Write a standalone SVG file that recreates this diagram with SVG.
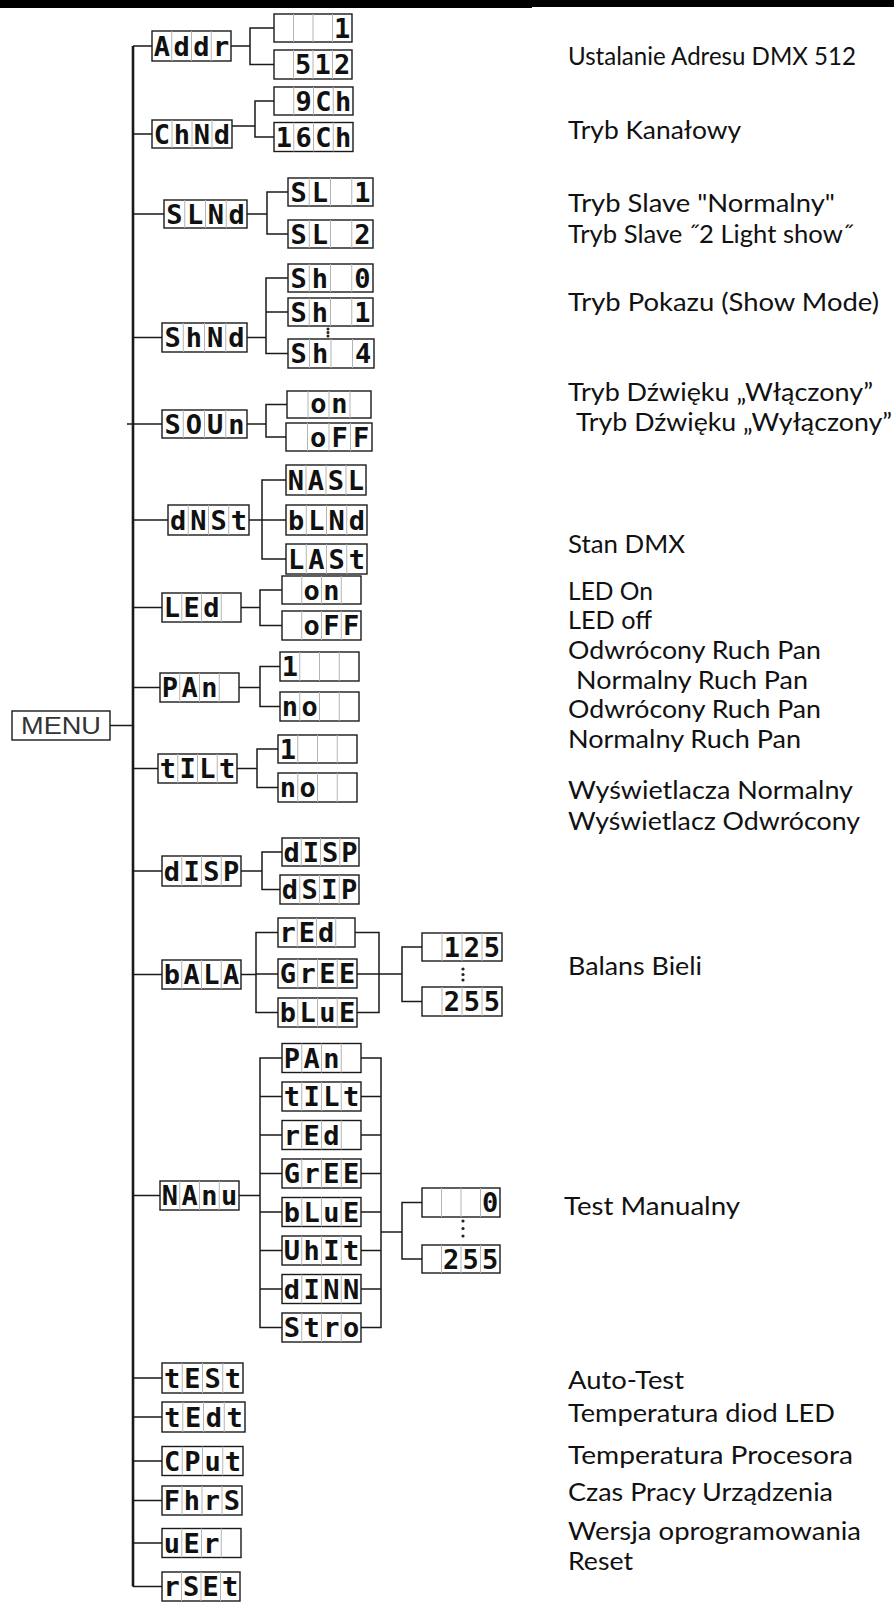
<svg xmlns="http://www.w3.org/2000/svg" width="894" height="1602" viewBox="0 0 894 1602">
<style>
.node rect{fill:#fff;stroke:#1a1a1a;stroke-width:1.4}
.div{stroke:#b4b4b4;stroke-width:1;fill:none}
.seg{font-family:"DejaVu Sans Mono",monospace;font-weight:bold;font-size:27px;text-anchor:middle;fill:#111}
.menu{font-family:"Liberation Sans",Arial,sans-serif;font-size:23px;fill:#333;text-anchor:middle}
.lbl{font-family:Lato,"Open Sans",sans-serif;font-size:25px;fill:#111}
.conn path{stroke:#1a1a1a;stroke-width:1.5;fill:none}
.conn path.main{stroke-width:2.6}
.dot{fill:#222}
</style>
<rect x="0" y="0" width="532" height="8" fill="#000"/>
<rect x="532" y="0" width="362" height="7" fill="#000"/>

<g id="connectors" class="conn">
<path class="main" d="M133,46V1586.5"/>
<path d="M133,46H152M133,134H152M133,214H164M133,337.5H162M127,424H162M133,520H168M133,607.5H162M133,687.5H160M110,725.5H133M133,768.5H158M133,871H162M133,974.5H162M133,1195.5H160M133,1378H162M133,1417H162M133,1461H162M133,1500.5H162M133,1543H162M133,1586.5H162"/>
<path d="M231,46H250M274,28H250V64.5H274"/>
<path d="M232,126H255M274,101H255V137H274"/>
<path d="M247,214H267M288,192H267V234H288"/>
<path d="M247,337.5H266M288,278H266V353.5H288M266,312H288"/>
<path d="M247,424H266M287,404.5H266V437H286"/>
<path d="M249,520H262M286,480H262V559H286M262,520H286"/>
<path d="M241,607.5H260M282,590H260V625.5H282"/>
<path d="M239,687.5H260M280,666.5H260V706.5H280"/>
<path d="M237,768.5H257M278,749H257V787.5H278"/>
<path d="M241,871H262M282,852H262V889.5H280"/>
<path d="M241,974.5H256M278,932.5H256V1012.5H278M256,974H278"/>
<path d="M355,932.5H379V1012.5H357M357,974H402M422,947H402V1001.5H422"/>
<path d="M239,1195.5H260M282,1058H260V1327.5H282M260,1096.5H282M260,1135H282M260,1173.5H282M260,1212H282M260,1250.5H282M260,1289H282"/>
<path d="M361,1058H381V1327.5H361M361,1096.5H381M361,1135H381M361,1173.5H381M361,1212H381M361,1250.5H381M361,1289H381M381,1232H402M422,1202.5H402V1259H422"/>
</g>

<g id="dots">
<circle class="dot" cx="328" cy="329" r="1.5"/><circle class="dot" cx="328" cy="332.5" r="1.5"/><circle class="dot" cx="328" cy="336" r="1.5"/>
<circle class="dot" cx="463" cy="969" r="1.6"/><circle class="dot" cx="463" cy="974.5" r="1.6"/><circle class="dot" cx="463" cy="980" r="1.6"/>
<circle class="dot" cx="463" cy="1221" r="1.6"/><circle class="dot" cx="463" cy="1228.5" r="1.6"/><circle class="dot" cx="463" cy="1236" r="1.6"/>
</g>

<g id="menu" class="node"><rect x="12" y="711" width="98" height="29"/><text class="menu" x="61" y="734" textLength="80" lengthAdjust="spacingAndGlyphs">MENU</text></g>

<g id="addr" class="node"><rect x="152" y="31" width="79" height="30"/><path class="div" d="M171.75,31v30M191.5,31v30M211.25,31v30"/><text class="seg" x="161.9 181.6 201.4 221.1" y="56">Addr</text></g>
<g id="addr-1" class="node"><rect x="274" y="14" width="78" height="28"/><path class="div" d="M293.5,14v28M313,14v28M332.5,14v28"/><text class="seg" x="342.25" y="37.5">1</text></g>
<g id="addr-512" class="node"><rect x="274" y="50" width="78" height="29"/><path class="div" d="M293.5,50v29M313,50v29M332.5,50v29"/><text class="seg" x="303.25 322.75 342.25" y="74">512</text></g>

<g id="chmd" class="node"><rect x="152" y="120" width="80" height="28"/><path class="div" d="M172,120v28M192,120v28M212,120v28"/><text class="seg" x="162 182 202 222" y="143.5">ChNd</text></g>
<g id="chmd-9" class="node"><rect x="274" y="87" width="79" height="28"/><path class="div" d="M293.75,87v28M313.5,87v28M333.25,87v28"/><text class="seg" x="303.6 323.4 343.1" y="110.5">9Ch</text></g>
<g id="chmd-16" class="node"><rect x="274" y="122.5" width="79" height="29"/><path class="div" d="M293.75,122.5v29M313.5,122.5v29M333.25,122.5v29"/><text class="seg" x="283.9 303.6 323.4 343.1" y="146.5">16Ch</text></g>

<g id="slmd" class="node"><rect x="164" y="200" width="83" height="28"/><path class="div" d="M184.75,200v28M205.5,200v28M226.25,200v28"/><text class="seg" x="174.4 195.1 215.9 236.6" y="223.5">SLNd</text></g>
<g id="slmd-1" class="node"><rect x="288" y="178" width="85" height="28"/><path class="div" d="M309.25,178v28M330.5,178v28M351.75,178v28"/><text class="seg" xml:space="preserve" x="298.6 319.9 341.1 362.4" y="201.5">SL 1</text></g>
<g id="slmd-2" class="node"><rect x="288" y="220" width="85" height="28"/><path class="div" d="M309.25,220v28M330.5,220v28M351.75,220v28"/><text class="seg" xml:space="preserve" x="298.6 319.9 341.1 362.4" y="243.5">SL 2</text></g>

<g id="shmd" class="node"><rect x="162" y="323" width="85" height="29"/><path class="div" d="M183.25,323v29M204.5,323v29M225.75,323v29"/><text class="seg" x="172.6 193.9 215.1 236.4" y="347">ShNd</text></g>
<g id="shmd-0" class="node"><rect x="288" y="264" width="85" height="28"/><path class="div" d="M309.25,264v28M330.5,264v28M351.75,264v28"/><text class="seg" xml:space="preserve" x="298.6 319.9 341.1 362.4" y="287.5">Sh 0</text></g>
<g id="shmd-1" class="node"><rect x="288" y="298" width="85" height="28"/><path class="div" d="M309.25,298v28M330.5,298v28M351.75,298v28"/><text class="seg" xml:space="preserve" x="298.6 319.9 341.1 362.4" y="321.5">Sh 1</text></g>
<g id="shmd-4" class="node"><rect x="288" y="339" width="86" height="29"/><path class="div" d="M309.5,339v29M331,339v29M352.5,339v29"/><text class="seg" xml:space="preserve" x="298.75 320.25 341.75 363.25" y="363">Sh 4</text></g>

<g id="soun" class="node"><rect x="162" y="410" width="85" height="28"/><path class="div" d="M183.25,410v28M204.5,410v28M225.75,410v28"/><text class="seg" x="172.6 193.9 215.1 236.4" y="433.5">SOUn</text></g>
<g id="soun-on" class="node"><rect x="287" y="391" width="84" height="27"/><path class="div" d="M308,391v27M329,391v27M350,391v27"/><text class="seg" x="318.5 339.5" y="413">on</text></g>
<g id="soun-off" class="node"><rect x="286" y="423" width="86" height="28"/><path class="div" d="M307.5,423v28M329,423v28M350.5,423v28"/><text class="seg" x="318.25 339.75 361.25" y="446.5">oFF</text></g>

<g id="dmst" class="node"><rect x="168" y="505" width="81" height="30"/><path class="div" d="M188.25,505v30M208.5,505v30M228.75,505v30"/><text class="seg" x="178.1 198.4 218.6 238.9" y="530">dNSt</text></g>
<g id="dmst-masl" class="node"><rect x="286" y="465" width="80" height="30"/><path class="div" d="M306,465v30M326,465v30M346,465v30"/><text class="seg" x="296 316 336 356" y="490">NASL</text></g>
<g id="dmst-blmd" class="node"><rect x="286" y="505" width="81" height="30"/><path class="div" d="M306.25,505v30M326.5,505v30M346.75,505v30"/><text class="seg" x="296.1 316.4 336.6 356.9" y="530">bLNd</text></g>
<g id="dmst-last" class="node"><rect x="286" y="544" width="81" height="30"/><path class="div" d="M306.25,544v30M326.5,544v30M346.75,544v30"/><text class="seg" x="296.1 316.4 336.6 356.9" y="569">LASt</text></g>

<g id="led" class="node"><rect x="162" y="593" width="79" height="29"/><path class="div" d="M181.75,593v29M201.5,593v29M221.25,593v29"/><text class="seg" x="171.9 191.6 211.4" y="617">LEd</text></g>
<g id="led-on" class="node"><rect x="282" y="576" width="79" height="28"/><path class="div" d="M301.75,576v28M321.5,576v28M341.25,576v28"/><text class="seg" x="311.6 331.4" y="599.5">on</text></g>
<g id="led-off" class="node"><rect x="282" y="611" width="79" height="29"/><path class="div" d="M301.75,611v29M321.5,611v29M341.25,611v29"/><text class="seg" x="311.6 331.4 351.1" y="635">oFF</text></g>

<g id="pan" class="node"><rect x="160" y="673" width="79" height="29"/><path class="div" d="M179.75,673v29M199.5,673v29M219.25,673v29"/><text class="seg" x="169.9 189.6 209.4" y="697">PAn</text></g>
<g id="pan-1" class="node"><rect x="280" y="652" width="79" height="29"/><path class="div" d="M299.75,652v29M319.5,652v29M339.25,652v29"/><text class="seg" x="289.9" y="676">1</text></g>
<g id="pan-no" class="node"><rect x="280" y="692" width="79" height="29"/><path class="div" d="M299.75,692v29M319.5,692v29M339.25,692v29"/><text class="seg" x="289.9 309.6" y="716">no</text></g>

<g id="tilt" class="node"><rect x="158" y="754" width="79" height="29"/><path class="div" d="M177.75,754v29M197.5,754v29M217.25,754v29"/><text class="seg" x="167.9 187.6 207.4 227.1" y="778">tILt</text></g>
<g id="tilt-1" class="node"><rect x="278" y="735" width="79" height="28"/><path class="div" d="M297.75,735v28M317.5,735v28M337.25,735v28"/><text class="seg" x="287.9" y="758.5">1</text></g>
<g id="tilt-no" class="node"><rect x="278" y="773" width="79" height="29"/><path class="div" d="M297.75,773v29M317.5,773v29M337.25,773v29"/><text class="seg" x="287.9 307.6" y="797">no</text></g>

<g id="disp" class="node"><rect x="162" y="856" width="79" height="30"/><path class="div" d="M181.75,856v30M201.5,856v30M221.25,856v30"/><text class="seg" x="171.9 191.6 211.4 231.1" y="881">dISP</text></g>
<g id="disp-n" class="node"><rect x="282" y="838" width="77" height="28"/><path class="div" d="M301.25,838v28M320.5,838v28M339.75,838v28"/><text class="seg" x="291.6 310.9 330.1 349.4" y="861.5">dISP</text></g>
<g id="disp-r" class="node"><rect x="280" y="875" width="79" height="29"/><path class="div" d="M299.75,875v29M319.5,875v29M339.25,875v29"/><text class="seg" x="289.9 309.6 329.4 349.1" y="899">dSIP</text></g>

<g id="bala" class="node"><rect x="162" y="960" width="79" height="29"/><path class="div" d="M181.75,960v29M201.5,960v29M221.25,960v29"/><text class="seg" x="171.9 191.6 211.4 231.1" y="984">bALA</text></g>
<g id="bala-red" class="node"><rect x="278" y="918" width="77" height="29"/><path class="div" d="M297.25,918v29M316.5,918v29M335.75,918v29"/><text class="seg" x="287.6 306.9 326.1" y="942">rEd</text></g>
<g id="bala-gree" class="node"><rect x="278" y="959" width="79" height="29"/><path class="div" d="M297.75,959v29M317.5,959v29M337.25,959v29"/><text class="seg" x="287.9 307.6 327.4 347.1" y="983">GrEE</text></g>
<g id="bala-blue" class="node"><rect x="278" y="998" width="79" height="29"/><path class="div" d="M297.75,998v29M317.5,998v29M337.25,998v29"/><text class="seg" x="287.9 307.6 327.4 347.1" y="1022">bLuE</text></g>
<g id="bala-125" class="node"><rect x="422" y="933" width="80" height="28"/><path class="div" d="M442,933v28M462,933v28M482,933v28"/><text class="seg" x="452 472 492" y="956.5">125</text></g>
<g id="bala-255" class="node"><rect x="422" y="987" width="80" height="29"/><path class="div" d="M442,987v29M462,987v29M482,987v29"/><text class="seg" x="452 472 492" y="1011">255</text></g>

<g id="manu" class="node"><rect x="160" y="1181" width="79" height="29"/><path class="div" d="M179.75,1181v29M199.5,1181v29M219.25,1181v29"/><text class="seg" x="169.9 189.6 209.4 229.1" y="1205">NAnu</text></g>
<g id="manu-pan" class="node"><rect x="282" y="1043.5" width="79" height="29"/><path class="div" d="M301.75,1043.5v29M321.5,1043.5v29M341.25,1043.5v29"/><text class="seg" x="291.9 311.6 331.4" y="1067.5">PAn</text></g>
<g id="manu-tilt" class="node"><rect x="282" y="1082" width="79" height="29"/><path class="div" d="M301.75,1082v29M321.5,1082v29M341.25,1082v29"/><text class="seg" x="291.9 311.6 331.4 351.1" y="1106">tILt</text></g>
<g id="manu-red" class="node"><rect x="282" y="1120.5" width="79" height="29"/><path class="div" d="M301.75,1120.5v29M321.5,1120.5v29M341.25,1120.5v29"/><text class="seg" x="291.9 311.6 331.4" y="1144.5">rEd</text></g>
<g id="manu-gree" class="node"><rect x="282" y="1159" width="79" height="29"/><path class="div" d="M301.75,1159v29M321.5,1159v29M341.25,1159v29"/><text class="seg" x="291.9 311.6 331.4 351.1" y="1183">GrEE</text></g>
<g id="manu-blue" class="node"><rect x="282" y="1197.5" width="79" height="29"/><path class="div" d="M301.75,1197.5v29M321.5,1197.5v29M341.25,1197.5v29"/><text class="seg" x="291.9 311.6 331.4 351.1" y="1221.5">bLuE</text></g>
<g id="manu-whit" class="node"><rect x="282" y="1236" width="79" height="29"/><path class="div" d="M301.75,1236v29M321.5,1236v29M341.25,1236v29"/><text class="seg" x="291.9 311.6 331.4 351.1" y="1260">UhIt</text></g>
<g id="manu-dimm" class="node"><rect x="282" y="1274.5" width="79" height="29"/><path class="div" d="M301.75,1274.5v29M321.5,1274.5v29M341.25,1274.5v29"/><text class="seg" x="291.9 311.6 331.4 351.1" y="1298.5">dINN</text></g>
<g id="manu-stro" class="node"><rect x="282" y="1313" width="79" height="29"/><path class="div" d="M301.75,1313v29M321.5,1313v29M341.25,1313v29"/><text class="seg" x="291.9 311.6 331.4 351.1" y="1337">Stro</text></g>
<g id="manu-0" class="node"><rect x="422" y="1188" width="78" height="29"/><path class="div" d="M441.5,1188v29M461,1188v29M480.5,1188v29"/><text class="seg" x="490.25" y="1212">0</text></g>
<g id="manu-255" class="node"><rect x="422" y="1245" width="78" height="28"/><path class="div" d="M441.5,1245v28M461,1245v28M480.5,1245v28"/><text class="seg" x="451.25 470.75 490.25" y="1268.5">255</text></g>

<g id="test" class="node"><rect x="162" y="1363" width="81" height="30"/><path class="div" d="M182.25,1363v30M202.5,1363v30M222.75,1363v30"/><text class="seg" x="172.1 192.4 212.6 232.9" y="1388">tESt</text></g>
<g id="tedt" class="node"><rect x="162" y="1402" width="83" height="30"/><path class="div" d="M182.75,1402v30M203.5,1402v30M224.25,1402v30"/><text class="seg" x="172.4 193.1 213.9 234.6" y="1427">tEdt</text></g>
<g id="cput" class="node"><rect x="162" y="1446.5" width="81" height="29"/><path class="div" d="M182.25,1446.5v29M202.5,1446.5v29M222.75,1446.5v29"/><text class="seg" x="172.1 192.4 212.6 232.9" y="1470.5">CPut</text></g>
<g id="fhrs" class="node"><rect x="162" y="1486" width="80" height="29"/><path class="div" d="M182,1486v29M202,1486v29M222,1486v29"/><text class="seg" x="172 192 212 232" y="1510">FhrS</text></g>
<g id="ver" class="node"><rect x="162" y="1528.5" width="79" height="29"/><path class="div" d="M181.75,1528.5v29M201.5,1528.5v29M221.25,1528.5v29"/><text class="seg" x="171.9 191.6 211.4" y="1552.5">uEr</text></g>
<g id="rset" class="node"><rect x="162" y="1572" width="78" height="29"/><path class="div" d="M181.5,1572v29M201,1572v29M220.5,1572v29"/><text class="seg" x="171.75 191.25 210.75 230.25" y="1596">rSEt</text></g>

<g id="labels" class="lbl">
<text x="568" y="65" textLength="288" lengthAdjust="spacingAndGlyphs">Ustalanie Adresu DMX 512</text>
<text x="568" y="139" textLength="173" lengthAdjust="spacingAndGlyphs">Tryb Kanałowy</text>
<text x="568" y="212" textLength="267" lengthAdjust="spacingAndGlyphs">Tryb Slave "Normalny"</text>
<text x="568" y="243" textLength="285" lengthAdjust="spacingAndGlyphs">Tryb Slave ˝2 Light show˝</text>
<text x="568" y="311" textLength="311" lengthAdjust="spacingAndGlyphs">Tryb Pokazu (Show Mode)</text>
<text x="568" y="401" textLength="305" lengthAdjust="spacingAndGlyphs">Tryb Dźwięku „Włączony”</text>
<text x="576" y="431" textLength="316" lengthAdjust="spacingAndGlyphs">Tryb Dźwięku „Wyłączony”</text>
<text x="568" y="553" textLength="117" lengthAdjust="spacingAndGlyphs">Stan DMX</text>
<text x="568" y="599.5" textLength="85" lengthAdjust="spacingAndGlyphs">LED On</text>
<text x="568" y="629" textLength="84" lengthAdjust="spacingAndGlyphs">LED off</text>
<text x="568" y="659" textLength="253" lengthAdjust="spacingAndGlyphs">Odwrócony Ruch Pan</text>
<text x="576" y="688.5" textLength="232" lengthAdjust="spacingAndGlyphs">Normalny Ruch Pan</text>
<text x="568" y="718" textLength="253" lengthAdjust="spacingAndGlyphs">Odwrócony Ruch Pan</text>
<text x="568" y="748" textLength="233" lengthAdjust="spacingAndGlyphs">Normalny Ruch Pan</text>
<text x="568" y="799" textLength="285" lengthAdjust="spacingAndGlyphs">Wyświetlacza Normalny</text>
<text x="568" y="829.5" textLength="292" lengthAdjust="spacingAndGlyphs">Wyświetlacz Odwrócony</text>
<text x="568" y="974.5" textLength="134" lengthAdjust="spacingAndGlyphs">Balans Bieli</text>
<text x="564" y="1214.5" textLength="176" lengthAdjust="spacingAndGlyphs">Test Manualny</text>
<text x="568" y="1389" textLength="116" lengthAdjust="spacingAndGlyphs">Auto-Test</text>
<text x="568" y="1422" textLength="267" lengthAdjust="spacingAndGlyphs">Temperatura diod LED</text>
<text x="568" y="1464" textLength="285" lengthAdjust="spacingAndGlyphs">Temperatura Procesora</text>
<text x="568" y="1500.5" textLength="265" lengthAdjust="spacingAndGlyphs">Czas Pracy Urządzenia</text>
<text x="568" y="1539.5" textLength="293" lengthAdjust="spacingAndGlyphs">Wersja oprogramowania</text>
<text x="568" y="1570" textLength="65" lengthAdjust="spacingAndGlyphs">Reset</text>
</g>
</svg>
